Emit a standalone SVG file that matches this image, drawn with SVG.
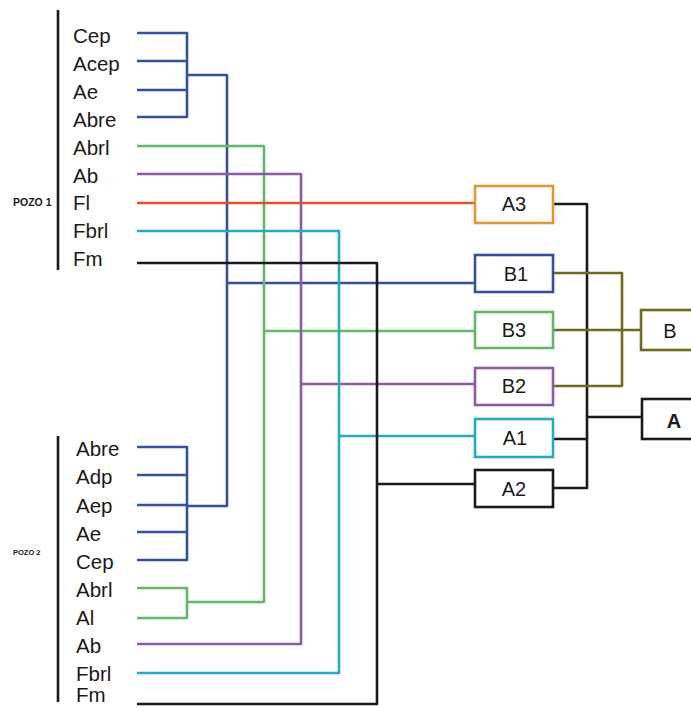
<svg xmlns="http://www.w3.org/2000/svg" width="691" height="708" viewBox="0 0 691 708">
<style>
.t{font-family:"Liberation Sans",Arial,sans-serif;font-size:20.5px;fill:#1a1a1a}
.bx{font-family:"Liberation Sans",Arial,sans-serif;font-size:20px;fill:#1a1a1a;text-anchor:middle}
.pz{font-family:"Liberation Sans",Arial,sans-serif;font-weight:bold;fill:#1a1a1a}
.c line,.c polyline{fill:none;stroke-width:2.6;stroke-linejoin:round}
.bl{stroke:#34509e}.gr{stroke:#62b868}.pu{stroke:#8c5aa6}.or{stroke:#d8562a}.te{stroke:#27a8c4}.bk{stroke:#1a1a1a}.ol{stroke:#6e6a20}
rect{fill:#fff;stroke-width:2.6}
</style>
<rect width="691" height="708" style="fill:#fff;stroke:none"/>
<g id="pozo1">
<line x1="58" y1="10" x2="58" y2="270" stroke="#1a1a1a" stroke-width="2.6"/>
<text class="pz" x="13" y="206" font-size="10.5">POZO 1</text>
<text class="t" x="73" y="43">Cep</text>
<text class="t" x="73" y="71">Acep</text>
<text class="t" x="73" y="99">Ae</text>
<text class="t" x="73" y="127">Abre</text>
<text class="t" x="73" y="155">Abrl</text>
<text class="t" x="73" y="183">Ab</text>
<text class="t" x="73" y="210">Fl</text>
<text class="t" x="73" y="238">Fbrl</text>
<text class="t" x="73" y="266">Fm</text>
</g>
<g id="pozo2">
<line x1="58" y1="436" x2="58" y2="702" stroke="#1a1a1a" stroke-width="2.6"/>
<text class="pz" x="13" y="555" font-size="7.5">POZO 2</text>
<text class="t" x="76" y="456">Abre</text>
<text class="t" x="76" y="484">Adp</text>
<text class="t" x="76" y="513">Aep</text>
<text class="t" x="76" y="541">Ae</text>
<text class="t" x="76" y="569">Cep</text>
<text class="t" x="76" y="597">Abrl</text>
<text class="t" x="76" y="625">Al</text>
<text class="t" x="76" y="653">Ab</text>
<text class="t" x="76" y="681">Fbrl</text>
<text class="t" x="76" y="702">Fm</text>
</g>
<g id="connectors" class="c">
<polyline class="bl" points="137,33 187,33 187,117 137,117"/>
<line class="bl" x1="137" y1="61" x2="187" y2="61"/>
<line class="bl" x1="137" y1="90" x2="187" y2="90"/>
<polyline class="bl" points="187,75 227,75 227,506 187,506"/>
<line class="bl" x1="227" y1="283" x2="475" y2="283"/>
<polyline class="bl" points="137,447 187,447 187,560 137,560"/>
<line class="bl" x1="137" y1="475" x2="187" y2="475"/>
<line class="bl" x1="137" y1="505" x2="187" y2="505"/>
<line class="bl" x1="137" y1="532" x2="187" y2="532"/>
<polyline class="gr" points="137,146 264,146 264,602 187,602"/>
<polyline class="gr" points="137,588 187,588 187,618 137,618"/>
<line class="gr" x1="264" y1="331" x2="475" y2="331"/>
<polyline class="pu" points="137,174 301,174 301,644 137,644"/>
<line class="pu" x1="301" y1="384" x2="475" y2="384"/>
<line class="or" x1="137" y1="203" x2="475" y2="203"/>
<polyline class="te" points="137,231 339,231 339,673 137,673"/>
<line class="te" x1="339" y1="436" x2="475" y2="436"/>
<polyline class="bk" points="137,263 377,263 377,704 137,704"/>
<line class="bk" x1="377" y1="484" x2="475" y2="484"/>
<polyline class="bk" points="553,204 587,204 587,488 553,488"/>
<line class="bk" x1="553" y1="439" x2="587" y2="439"/>
<line class="bk" x1="587" y1="417" x2="642" y2="417"/>
<polyline class="ol" points="553,273 622,273 622,386 553,386"/>
<line class="ol" x1="553" y1="330" x2="641" y2="330"/>
</g>
<g id="A3"><rect x="475" y="186" width="78" height="37" stroke="#e3953c"/><text class="bx" x="514" y="211">A3</text></g>
<g id="B1"><rect x="475" y="255" width="78" height="37" stroke="#34509e"/><text class="bx" x="516" y="281">B1</text></g>
<g id="B3"><rect x="475" y="312" width="78" height="36" stroke="#62b868"/><text class="bx" x="514" y="337">B3</text></g>
<g id="B2"><rect x="475" y="368" width="78" height="37" stroke="#8c5aa6"/><text class="bx" x="514" y="393">B2</text></g>
<g id="A1"><rect x="475" y="419" width="78" height="38" stroke="#27a8c4"/><text class="bx" x="515" y="445">A1</text></g>
<g id="A2"><rect x="475" y="470" width="78" height="37" stroke="#1a1a1a"/><text class="bx" x="514" y="496">A2</text></g>
<g id="B"><rect x="641" y="310" width="60" height="40" stroke="#6e6a20"/><text class="bx" x="670" y="338">B</text></g>
<g id="A"><rect x="642" y="399" width="60" height="40" stroke="#1a1a1a"/><text class="bx" x="674" y="428" font-weight="bold" font-size="23">A</text></g>
</svg>
